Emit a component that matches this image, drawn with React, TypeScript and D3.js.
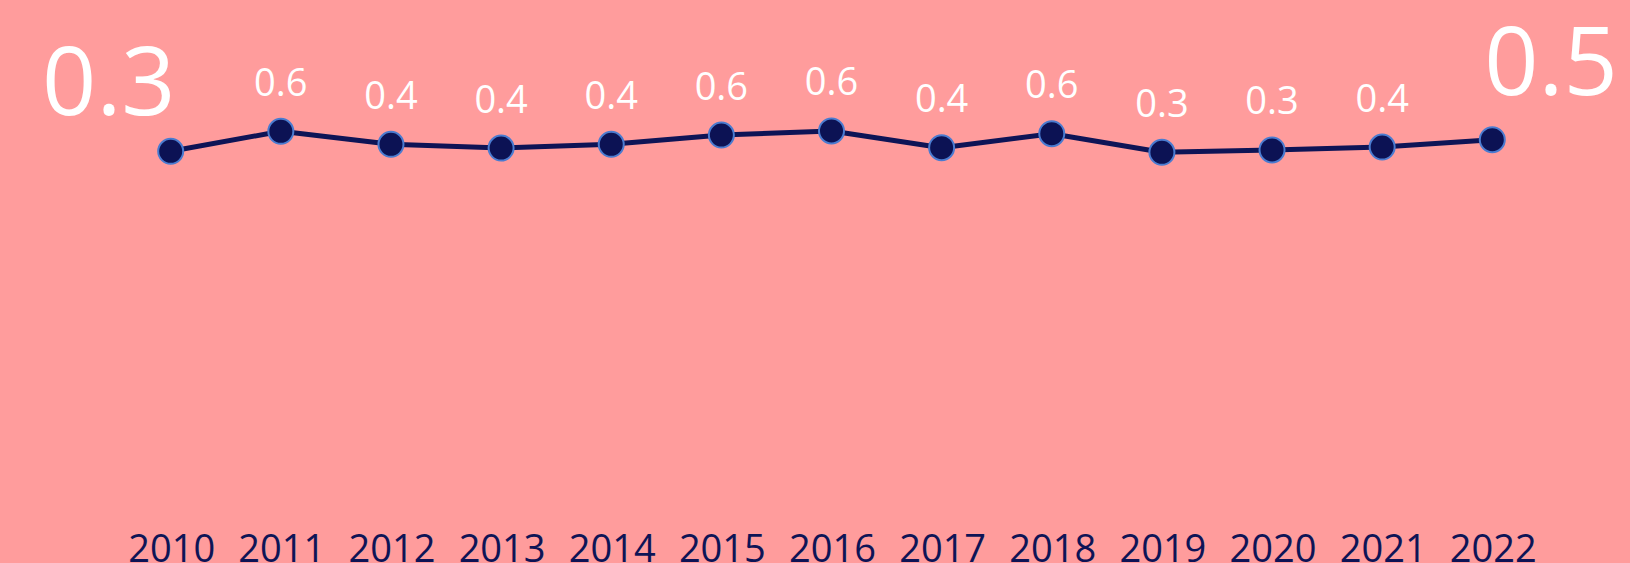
import React, { useEffect } from "react";
import * as d3 from "d3";

const years = ["2010","2011","2012","2013","2014","2015","2016","2017","2018","2019","2020","2021","2022"];
const values = [0.315,0.618,0.421,0.365,0.421,0.562,0.623,0.370,0.582,0.300,0.335,0.380,0.491];

const W = 1630;
const H = 563;

export default function App() {
  useEffect(() => {
    document.body.style.margin = "0";
    document.body.style.overflow = "hidden";
  }, []);

  const x = d3.scalePoint<string>().domain(years).range([170.7, 1492.3]);
  const y = d3.scaleLinear().domain([0, 1]).range([172.1, 106.1]);
  const line = d3.line<number>().x((_, i) => x(years[i]) as number).y((v) => y(v));
  const fmt = d3.format(".1f");
  const last = years.length - 1;

  return (
    <svg width={W} height={H} style={{ position: "absolute", left: 0, top: 0, display: "block" }}>
      <rect x={0} y={0} width={W} height={H} fill="#FF9C9C" />
      <path d={line(values) || ""} fill="none" stroke="#0E1456" strokeWidth={5} strokeLinejoin="round" />
      {values.map((v, i) => (
        <circle key={years[i]} cx={x(years[i])} cy={y(v)} r={12.5} fill="#0C1254" stroke="#4A7BD0" strokeWidth={2} />
      ))}
      {values.map((v, i) => {
        const cx = x(years[i]) as number;
        const cy = y(v);
        if (i === 0) {
          return (
            <text key={"l" + i} x={cx + 5} y={cy - 36} textAnchor="end" fontFamily="Open Sans" fontSize={95} fill="#FFFFFF">
              {fmt(v)}
            </text>
          );
        }
        if (i === last) {
          return (
            <text key={"l" + i} x={cx - 8} y={cy - 45} textAnchor="start" fontFamily="Open Sans" fontSize={95} fill="#FFFFFF">
              {fmt(v)}
            </text>
          );
        }
        return (
          <text key={"l" + i} x={cx} y={cy - 35.5} textAnchor="middle" fontFamily="Open Sans" fontSize={38} fill="#FFFFFF">
            {fmt(v)}
          </text>
        );
      })}
      {years.map((yr) => (
        <text key={"x" + yr} x={(x(yr) as number) + 1} y={561.5} textAnchor="middle" fontFamily="Open Sans" fontSize={38} fill="#0E1456">
          {yr}
        </text>
      ))}
    </svg>
  );
}
